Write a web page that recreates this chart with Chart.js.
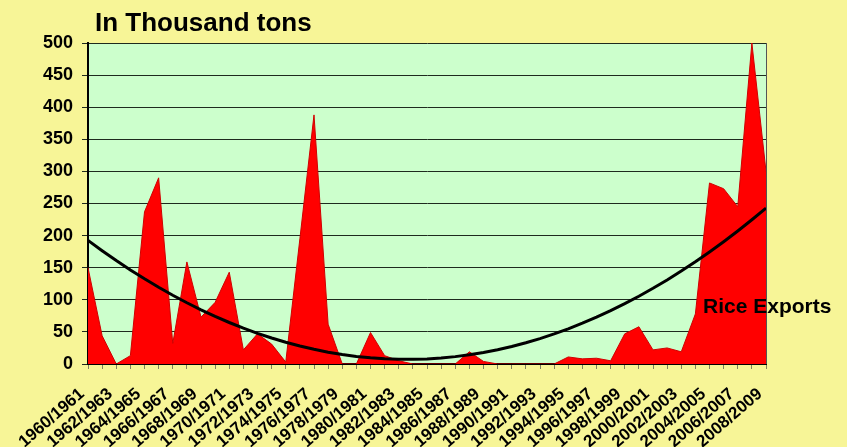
<!DOCTYPE html>
<html>
<head>
<meta charset="utf-8">
<script src="https://cdn.jsdelivr.net/npm/chart.js@4"></script>
<style>
  html, body { margin: 0; padding: 0; background: #F7F597; }
  #wrap { width: 847px; height: 447px; position: relative; }
</style>
</head>
<body>
<div id="wrap"><canvas id="c" width="847" height="447"></canvas></div>
<script>
const categories = [
  "1960/1961","1961/1962","1962/1963","1963/1964","1964/1965","1965/1966","1966/1967","1967/1968",
  "1968/1969","1969/1970","1970/1971","1971/1972","1972/1973","1973/1974","1974/1975","1975/1976",
  "1976/1977","1977/1978","1978/1979","1979/1980","1980/1981","1981/1982","1982/1983","1983/1984",
  "1984/1985","1985/1986","1986/1987","1987/1988","1988/1989","1989/1990","1990/1991","1991/1992",
  "1992/1993","1993/1994","1994/1995","1995/1996","1996/1997","1997/1998","1998/1999","1999/2000",
  "2000/2001","2001/2002","2002/2003","2003/2004","2004/2005","2005/2006","2006/2007","2007/2008",
  "2008/2009"
];
const riceExports = [
  150, 44, 0, 13, 237, 290, 32, 159, 73, 96, 143, 22, 47, 31, 3, 195,
  388, 62, 0, 0, 49, 13, 5, 0, 0, 0, 0, 19, 4, 0, 0, 0,
  0, 0, 11, 8, 9, 5, 47, 58, 22, 25, 19, 78, 282, 273, 245, 500,
  300
];
const yTicks = [0, 50, 100, 150, 200, 250, 300, 350, 400, 450, 500];
const titleText = "In Thousand tons";
const seriesName = "Rice Exports";

// Polynomial (order 2) least-squares trendline of the series, as in the original spreadsheet
function quadFit(ys) {
  let s = [0,0,0,0,0], t = [0,0,0];
  ys.forEach((y, i) => {
    const x = i + 1;
    s[0] += 1; s[1] += x; s[2] += x*x; s[3] += x*x*x; s[4] += x*x*x*x;
    t[0] += y; t[1] += x*y; t[2] += x*x*y;
  });
  const A = [[s[0], s[1], s[2], t[0]], [s[1], s[2], s[3], t[1]], [s[2], s[3], s[4], t[2]]];
  for (let i = 0; i < 3; i++) {
    for (let k = i + 1; k < 3; k++) {
      const f = A[k][i] / A[i][i];
      for (let j = i; j < 4; j++) A[k][j] -= f * A[i][j];
    }
  }
  const c = [0,0,0];
  for (let i = 2; i >= 0; i--) {
    let v = A[i][3];
    for (let j = i + 1; j < 3; j++) v -= A[i][j] * c[j];
    c[i] = v / A[i][i];
  }
  return ys.map((_, i) => c[0] + c[1]*(i+1) + c[2]*(i+1)*(i+1));
}
const trend = quadFit(riceExports);

const FONT = "'Liberation Sans', Arial, sans-serif";

const decor = {
  id: 'decor',
  beforeDraw(chart) {
    const { ctx, chartArea: a } = chart;
    ctx.save();
    ctx.fillStyle = '#F7F597';
    ctx.fillRect(0, 0, chart.width, chart.height);
    ctx.fillStyle = '#CCFFCC';
    ctx.fillRect(a.left, a.top, a.right - a.left, a.bottom - a.top);
    ctx.restore();
  },
  afterDatasetsDraw(chart) {
    const { ctx, chartArea: a } = chart;
    ctx.save();
    ctx.strokeStyle = '#555555';
    ctx.lineWidth = 1;
    ctx.beginPath();
    ctx.moveTo(a.right + 0.5, a.top);
    ctx.lineTo(a.right + 0.5, a.bottom);
    ctx.stroke();
    ctx.fillStyle = '#000';
    ctx.font = 'bold 26px ' + FONT;
    ctx.textBaseline = 'alphabetic';
    ctx.textAlign = 'left';
    ctx.fillText(titleText, 95, 31);
    ctx.font = 'bold 21px ' + FONT;
    ctx.fillText(seriesName, 703, 313);
    ctx.restore();
  }
};

new Chart(document.getElementById('c'), {
  type: 'line',
  data: {
    labels: categories,
    datasets: [
      {
        label: 'Trend',
        data: trend,
        borderColor: '#000000',
        borderWidth: 3,
        pointRadius: 0,
        fill: false,
        tension: 0,
        order: 0
      },
      {
        label: seriesName,
        data: riceExports,
        borderColor: '#D00000',
        backgroundColor: '#FF0000',
        borderWidth: 1,
        pointRadius: 0,
        fill: 'origin',
        tension: 0,
        order: 1
      }
    ]
  },
  options: {
    responsive: false,
    animation: false,
    events: [],
    layout: { padding: { left: 0, right: 81, top: 43, bottom: 0 } },
    plugins: { legend: { display: false }, title: { display: false }, tooltip: { enabled: false } },
    scales: {
      x: {
        type: 'category',
        offset: false,
        afterFit(scale) { scale.height = 83; },
        grid: {
          drawOnChartArea: false,
          drawTicks: true,
          tickLength: 5,
          color: '#808060',
          offset: false
        },
        border: { display: true, color: '#000000', width: 2 },
        ticks: {
          autoSkip: false,
          minRotation: 41,
          maxRotation: 41,
          padding: 15,
          labelOffset: -6,
          color: '#000000',
          font: { family: FONT, size: 17, weight: 'bold' },
          callback(value, index) { return index % 2 === 0 ? categories[index] : ''; }
        }
      },
      y: {
        min: 0,
        max: 500,
        afterFit(scale) { scale.width = 88; },
        afterBuildTicks(scale) { scale.ticks = yTicks.map(v => ({ value: v })); },
        grid: {
          color: '#1e2a1e',
          lineWidth: 1,
          tickLength: 6,
          drawTicks: true
        },
        border: { display: true, color: '#000000', width: 2 },
        ticks: {
          padding: 9,
          color: '#000000',
          font: { family: FONT, size: 18, weight: 'bold' }
        }
      }
    }
  },
  plugins: [decor]
});
</script>
</body>
</html>
